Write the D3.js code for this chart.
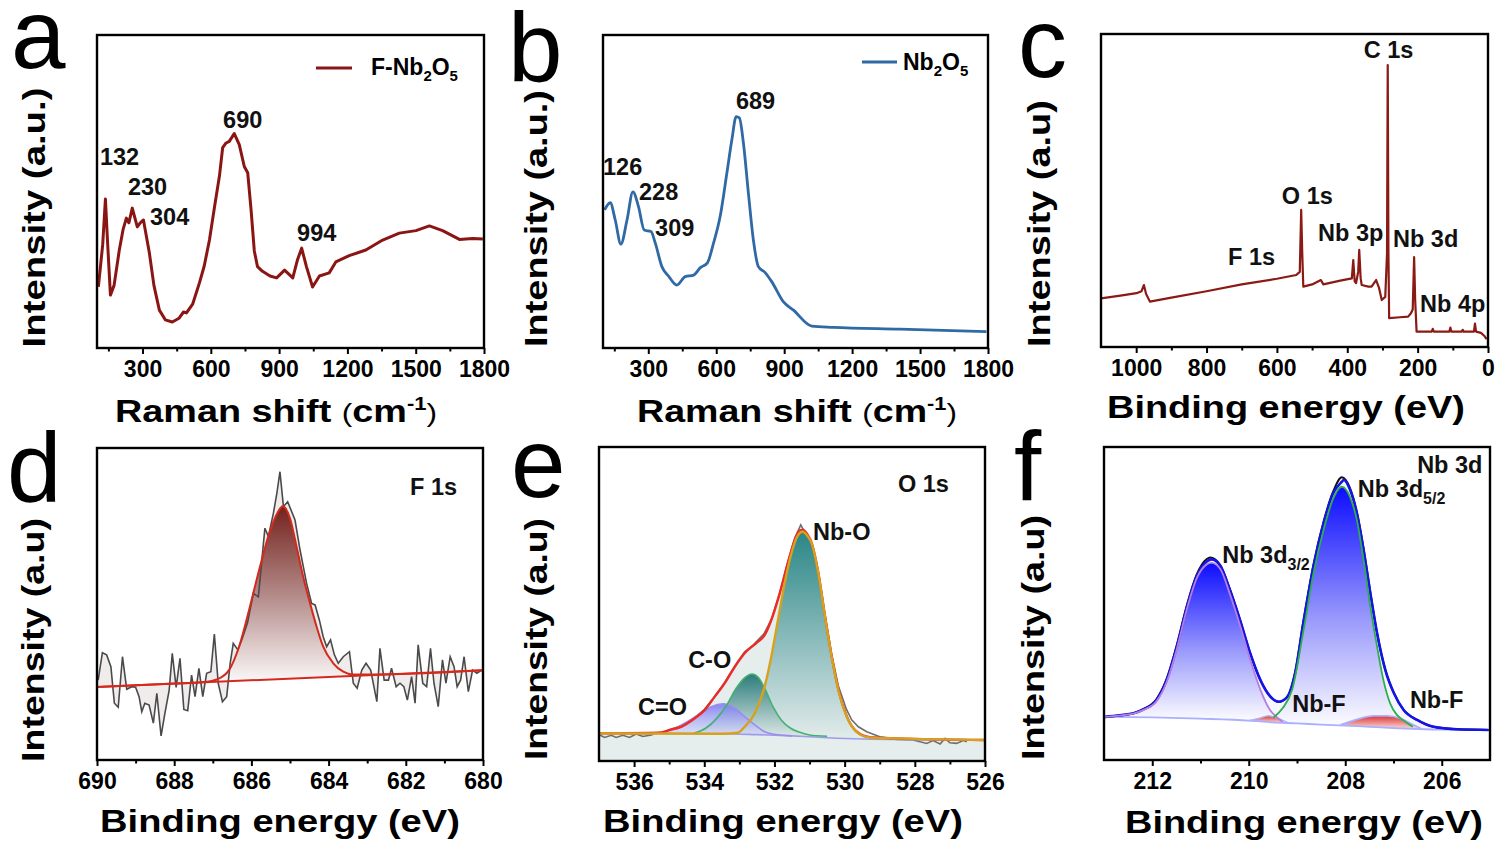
<!DOCTYPE html>
<html>
<head>
<meta charset="utf-8">
<script src="https://cdn.jsdelivr.net/npm/d3@7"></script>
<style>
  body { margin: 0; background: #fff; }
  text { font-family: "Liberation Sans", Arial, Helvetica, sans-serif; }
</style>
</head>
<body>
<svg id="fig" width="1496" height="846"></svg>
<script>
// ---- data: [x, intensity (a.u., 0-100 of the frame)] ----
const ramanFNb2O5 = [[106,19.5],[125,33],[137,47.6],[147,33],[159,16.9],[175,20],[198,31.3],[215,38],[229,41.5],[240,40],[255,44.7],[277,38.7],[290,40],[304,40.9],[330,30.4],[350,20],[374,12.1],[400,9],[431,8.3],[460,9.5],[480,11.5],[493,11.2],[520,14],[550,20.8],[571,26.2],[594,34.5],[616,45],[638,55],[652,64],[667,65.5],[681,66],[703,68.5],[725,65],[747,58],[762,56],[777,44],[791,31],[805,26],[827,24.5],[860,23],[889,22.4],[924,24.9],[960,22.4],[980,28],[999,31.9],[1020,26],[1047,19.5],[1077,23],[1120,24],[1149,27.5],[1208,29.5],[1281,31.3],[1355,34.5],[1428,36.7],[1501,37.5],[1560,39],[1618,37.5],[1692,34.7],[1750,35],[1795,34.8]]
const ramanNb2O5 = [[107,44.1],[132,46.4],[154,40.9],[179,33.2],[206,40.9],[232,49.9],[257,45.1],[282,37.7],[312,37.2],[331,33.5],[360,26.0],[389,23.0],[426,20.1],[463,22.8],[500,23.3],[529,25.6],[561,27.2],[588,33.5],[617,41.9],[647,55.9],[669,66.5],[688,73.9],[702,73.5],[720,65.5],[742,49.5],[764,34.5],[786,26.0],[816,24.1],[845,21.2],[896,14.8],[941,12.1],[1022,7.0],[1117,6.6],[1411,6.0],[1793,5.2]]
const surveyXPS = [[1100,15.5],[1040,16.5],[999,17.2],[985,17.8],[978,19.8],[972,17],[961,14.5],[900,15.8],[800,17.8],[700,20],[600,21.8],[545,23],[535,24],[531,43.8],[528,30],[525,19.3],[500,20],[475,21.4],[468,20],[420,21.2],[387,21.9],[383,27.8],[379,21],[375,20.4],[369,24],[366,31],[362,22],[359,19.8],[340,19.3],[331,19.3],[318,21.4],[310,19],[302,15],[292,16],[287,30],[285,90.1],[283,30],[281,9.2],[250,9.5],[227,9.7],[219,10.8],[214,12],[210,28.7],[207,15],[203,4.9],[160,4.9],[157,5.8],[154,4.9],[110,4.9],[107,6.2],[104,4.9],[75,4.9],[72,5.5],[69,4.9],[40,4.9],[37,7.5],[34,4.9],[20,4.5],[10,3.5],[4,2.5]]

const f1sRaw = [[689.97,25.6],[689.86,34.4],[689.75,33.7],[689.64,29.9],[689.55,18.2],[689.45,16.9],[689.34,33.1],[689.23,22.7],[689.10,23.5],[689.00,23.3],[688.91,20.3],[688.84,15.5],[688.76,18.2],[688.65,17.6],[688.54,11.8],[688.45,21.4],[688.34,7.7],[688.24,15.0],[688.13,22.4],[688.05,34.2],[687.95,23.3],[687.85,32.6],[687.75,16.2],[687.65,15.8],[687.55,27.2],[687.46,20.3],[687.36,29.4],[687.26,20.3],[687.16,27.8],[687.05,28.3],[686.96,40.4],[686.86,24.6],[686.75,18.7],[686.64,20.3],[686.55,31.0],[686.47,37.4],[686.35,35.3],[686.25,38.5],[686.1,44],[685.95,53.4],[685.82,52.3],[685.65,74.3],[685.56,71.6],[685.43,79.1],[685.34,85.5],[685.26,92.4],[685.17,81.2],[685.06,82.8],[684.87,76.9],[684.74,67.3],[684.57,56.6],[684.44,50.2],[684.35,49.7],[684.24,44.9],[684.14,39.5],[684.05,36.3],[683.95,38.5],[683.85,33.7],[683.75,31.0],[683.62,33.1],[683.46,34.7],[683.36,24.6],[683.26,23.0],[683.14,28.8],[683.03,31.0],[682.91,28.8],[682.75,18.7],[682.67,35.8],[682.56,25.6],[682.45,25.6],[682.37,29.4],[682.25,23.5],[682.15,24.6],[682.05,23.5],[681.96,19.2],[681.85,26.7],[681.76,18.2],[681.68,36.9],[681.56,24.6],[681.46,23.5],[681.36,35.8],[681.27,24.6],[681.16,17.1],[681.05,32.1],[680.96,24.6],[680.85,33.1],[680.75,29.9],[680.67,23.5],[680.58,25.6],[680.49,33.1],[680.38,21.9],[680.27,28.8],[680.16,27.8],[680.06,28.6]]
const f1sFit = [[690,23.4],[688,24.5],[687.2,25.0],[686.9,25.8],[686.58,28.8],[686.32,36.3],[686.06,48.1],[685.8,60.9],[685.54,72.6],[685.33,79.1],[685.19,81.3],[685.0,77.5],[684.83,68.4],[684.66,58.8],[684.48,50.2],[684.31,42.7],[684.14,36.3],[683.88,31],[683.62,28.3],[683.36,27.4],[683,27.4],[680,28.8]]
const f1sBase = [[690,23.4],[680,28.8]]

const o1sRaw = [[536.98,8.3],[536.84,7.5],[536.65,8.2],[536.51,7.5],[536.32,8.2],[536.13,7.5],[535.94,8.6],[535.75,7.8],[535.51,8.3],[535.37,9.0],[535.12,9.2],[534.9,10.3],[534.6,11.5],[534.3,13.6],[534,16.4],[533.7,20.6],[533.42,25],[533.13,30.3],[532.85,34.8],[532.6,37],[532.3,40.5],[532.09,45],[531.85,53.5],[531.62,63.5],[531.42,71],[531.25,75.2],[531.1,72],[530.94,69.5],[530.75,60.2],[530.56,46.5],[530.37,34],[530.18,24],[529.95,16.5],[529.8,13.1],[529.61,10.9],[529.37,9.3],[529,7.7],[528.52,6.9],[528.05,6.7],[527.66,5.6],[527.48,6.5],[527.28,5.4],[527.14,7.2],[527,5.8],[526.81,5.6],[526.62,6.5],[526.52,6.1]]
const o1sEnvelope = [[537,8.8],[535.3,9],[534.99,9.9],[534.66,10.9],[534.27,13.6],[533.99,16.2],[533.7,20.5],[533.42,24.7],[533.13,30],[532.85,34.3],[532.47,38],[532.28,40.1],[532.09,44.9],[531.85,53.4],[531.62,63],[531.42,70.5],[531.3,73.2],[531.2,73.7],[531.05,72],[530.94,69.5],[530.75,60],[530.56,46.2],[530.37,33.4],[530.18,22.8],[529.94,14.3],[529.66,9.4],[529.28,7.6],[528.52,7.2],[526,6.7]]
const o1sNbO = [[537,8.8],[533.5,8.7],[533.04,9.0],[532.85,10.9],[532.56,15.2],[532.28,23.7],[532.09,33.2],[531.9,44.9],[531.71,56.6],[531.52,66],[531.35,71.5],[531.2,73],[531.05,71.5],[530.94,69.3],[530.75,59.8],[530.56,46],[530.37,33.2],[530.18,22.6],[529.94,14.1],[529.66,9.3],[529.28,7.5],[528.52,7.2],[526,6.7]]
const o1sCO = [[534.3,8.8],[533.95,10.5],[533.65,13.5],[533.35,18],[533.1,23],[532.85,26.5],[532.64,27.7],[532.45,26.5],[532.25,22.5],[532.05,17.5],[531.8,13],[531.55,10.5],[531.3,9.2],[531,8.3],[530.5,7.9]]
const o1sCdO = [[535.3,8.8],[534.94,9.9],[534.56,12],[534.18,14.6],[533.8,17.3],[533.47,18.2],[533.13,16.8],[532.85,14.1],[532.56,11.5],[532.28,9.3],[532,8.5],[531.5,8.0]]
const o1sBase = [[537,8.8],[533.5,8.7],[532.5,8.4],[531.5,8.0],[530.5,7.4],[529.5,7.0],[528,6.8],[526,6.7]]

const nb3dRaw = [[213.01,13.6],[212.67,14.2],[212.39,14.9],[212.18,16.3],[211.91,19.5],[211.7,26],[211.49,36.8],[211.28,49.6],[211.08,59.2],[210.87,64.2],[210.8,64.7],[210.59,62.3],[210.39,54.5],[210.18,44.7],[209.97,34.1],[209.76,25.6],[209.56,20.4],[209.38,18.6],[209.21,20],[209.04,27.9],[208.87,44],[208.66,62.2],[208.45,76],[208.25,85.8],[208.07,90.3],[207.9,86.8],[207.76,79.3],[207.62,67.5],[207.48,53.5],[207.34,40.5],[207.17,28.8],[206.99,21.3],[206.79,16],[206.51,12.8],[206.17,10.6],[205.68,9.8],[205.03,9.6]]
const nb3dEnvelope = [[213.01,13.8],[212.67,14.3],[212.39,14.9],[212.18,16.2],[211.91,19.2],[211.7,25.6],[211.49,36.2],[211.28,49.0],[211.08,58.6],[210.87,63.4],[210.77,64.1],[210.59,62.0],[210.39,54.3],[210.18,44.7],[209.97,34.1],[209.76,25.6],[209.56,20.4],[209.38,18.6],[209.21,20.0],[209.04,27.7],[208.87,43.7],[208.66,61.8],[208.45,75.6],[208.25,85.2],[208.07,88.9],[208.03,89.5],[207.9,86.3],[207.76,78.8],[207.62,67.1],[207.48,53.3],[207.34,40.5],[207.17,28.8],[206.99,21.3],[206.79,16.0],[206.51,12.8],[206.17,10.6],[205.68,9.8],[205.03,9.6]]
const nb3d32 = [[213,13.8],[212.67,14.2],[212.39,14.8],[212.18,16],[211.91,18.8],[211.7,25],[211.49,35.5],[211.28,48.3],[211.08,58],[210.87,62.5],[210.77,63.0],[210.59,61],[210.39,53],[210.18,43],[209.97,32],[209.76,22.5],[209.56,16.0],[209.45,14.1],[209.3,12.2]]
const nb3d52 = [[209.49,13.5],[209.3,16.5],[209.1,22.5],[208.87,41],[208.66,59.5],[208.45,73.5],[208.25,83.5],[208.07,87.3],[207.9,84],[207.76,76.7],[207.62,63.9],[207.48,49],[207.34,36.2],[207.21,25.6],[207.07,18.1],[206.93,14.4],[206.79,12.6],[206.6,10.6]]
const nbF1 = [[210.0,12.6],[209.8,13.3],[209.59,14.1],[209.4,13.4],[209.2,12.0]]
const nbF2 = [[208.1,11.2],[207.76,13.0],[207.41,14.1],[207.13,14.1],[206.86,13.3],[206.65,11.7],[206.4,9.8]]
const nb3dBase = [[213,13.8],[212,13.6],[211,13.2],[210,12.6],[209.5,12.0],[209,11.7],[208.5,11.3],[208,11.0],[207.5,10.6],[207,10.2],[206.5,9.9],[206,9.7],[205,9.6]]

// ---- ticks ----
const ramanTicks = [300, 600, 900, 1200, 1500, 1800]
const ramanMinor = [150, 450, 750, 1050, 1350, 1650]
const surveyTicks = [1000, 800, 600, 400, 200, 0]
const surveyMinor = [900, 700, 500, 300, 100]
const f1sTicks = [690, 688, 686, 684, 682, 680]
const f1sMinor = [689, 687, 685, 683, 681]
const o1sTicks = [536, 534, 532, 530, 528, 526]
const o1sMinor = [535, 533, 531, 529, 527]
const nb3dTicks = [212, 210, 208, 206]
const nb3dMinor = [211, 209, 207]

// ---- annotations: [text, x, intensity] ----
const ramanFPeaks = [['132', 113, 58.5], ['230', 236, 48.9], ['304', 333, 39.3], ['690', 654, 70.3], ['994', 979, 34.2]]
const ramanPeaks = [['126', 100, 55.3], ['228', 259, 47.3], ['309', 330, 35.8], ['689', 687, 76.4]]
const surveyPeaks = [['C 1s', 353, 92.3], ['O 1s', 586, 45.7], ['Nb 3p', 483, 33.9], ['Nb 3d', 270, 31.9], ['F 1s', 739, 26.2], ['Nb 4p', 193, 11.2]]
const f1sLabels = [['F 1s', 681.89, 84.9]]
const o1sLabels = [['O 1s', 528.48, 85.7], ['Nb-O', 530.90, 70.4], ['C-O', 534.46, 29.6], ['C=O', 535.89, 14.6]]
const nb3dLabels = [['Nb 3d', 206.51, 91.7], [['Nb 3d', '5/2'], 207.74, 84.0], [['Nb 3d', '3/2'], 210.55, 62.9], ['Nb-F', 209.10, 15.3], ['Nb-F', 206.66, 16.6]]

// ---------------------------------------------------------------
const svg = d3.select('#fig')
const defs = svg.append('defs')

function gradient(id, stops) {
    const g = defs.append('linearGradient').attr('id', id)
        .attr('x1', 0).attr('y1', 0).attr('x2', 0).attr('y2', 1)
    stops.forEach(s => g.append('stop').attr('offset', s[0]).attr('stop-color', s[1]).attr('stop-opacity', s[2] == null ? 1 : s[2]))
}
gradient('gF1s', [[0, '#74221d'], [0.5, '#b48c8a'], [1, '#ffffff']])
gradient('gNbO', [[0, '#2a8686'], [1, '#e4ecec']])
gradient('gCO', [[0, '#2b7c7c'], [1, '#dfe9e6']])
gradient('gCdO', [[0, '#7c7cf2', 0.9], [1, '#d8d8fa', 0.6]])
gradient('gNb', [[0, '#0c0cff'], [0.55, '#9a9afc'], [1, '#ffffff']])
gradient('gNbF', [[0, '#dd3434'], [1, '#fbe3e3']])

// baseline value at x (linear between read points), used for the bottom of filled components
function interp(arr, xv) {
    const s = arr.slice().sort((a, b) => a[0] - b[0])
    if (xv <= s[0][0]) return s[0][1]
    for (let i = 1; i < s.length; i++) {
        if (xv <= s[i][0]) {
            const t = (xv - s[i-1][0]) / (s[i][0] - s[i-1][0])
            return s[i-1][1] + t * (s[i][1] - s[i-1][1])
        }
    }
    return s[s.length - 1][1]
}

function panel(cfg) {
    const [x0, x1, y0, y1] = cfg.box
    const p = {cfg}
    p.x = d3.scaleLinear().domain(cfg.xDomain).range([x0, x1])
    p.y = d3.scaleLinear().domain([0, 100]).range([y1, y0])
    p.g = svg.append('g')
    defs.append('clipPath').attr('id', 'clip-' + cfg.id)
        .append('rect').attr('x', x0).attr('y', y0).attr('width', x1 - x0).attr('height', y1 - y0)
    p.plot = p.g.append('g').attr('clip-path', `url(#clip-${cfg.id})`)
    p.line = (curve) => d3.line().x(d => p.x(d[0])).y(d => p.y(d[1])).curve(curve || d3.curveLinear)
    return p
}

function finish(p) {
    const cfg = p.cfg
    const [x0, x1, y0, y1] = cfg.box
    const axis = p.g.append('g').attr('transform', `translate(0,${y1})`)
        .call(d3.axisBottom(p.x).tickValues(cfg.ticks).tickSize(6).tickPadding(7).tickFormat(d3.format('d')))
    axis.select('.domain').remove()
    axis.selectAll('line').attr('stroke', '#000').attr('stroke-width', 2)
    axis.selectAll('text').attr('font-size', 23).attr('font-weight', 'bold').attr('fill', '#000')
        .attr('font-family', '"Liberation Sans", Arial, sans-serif')
    const minor = p.g.append('g').attr('transform', `translate(0,${y1})`)
        .call(d3.axisBottom(p.x).tickValues(cfg.minor).tickSize(3.5).tickFormat(''))
    minor.select('.domain').remove()
    minor.selectAll('line').attr('stroke', '#000').attr('stroke-width', 2)

    p.g.append('rect').attr('x', x0).attr('y', y0).attr('width', x1 - x0).attr('height', y1 - y0)
        .attr('fill', 'none').attr('stroke', '#000').attr('stroke-width', 2.4)

    // y title
    const yt = p.g.append('text').attr('text-anchor', 'middle').attr('font-size', 31)
        .attr('font-weight', 'bold').text(cfg.yTitle)
    const yw = yt.node().getComputedTextLength()
    yt.attr('transform', `translate(${cfg.yTitlePos[0]},${cfg.yTitlePos[1]}) rotate(-90) scale(${cfg.yTitlePos[2] / yw},1)`)

    // x title
    const xt = p.g.append('text').attr('text-anchor', 'middle').attr('font-size', 31).attr('font-weight', 'bold')
    cfg.xTitle.forEach(part => {
        const ts = xt.append('tspan').text(part.t)
        if (part.light) ts.attr('font-weight', 'normal').attr('font-size', 26)
        if (part.sup) ts.attr('font-size', 18).attr('dy', -12)
        if (part.down) ts.attr('dy', 12)
    })
    const xw = xt.node().getComputedTextLength()
    xt.attr('transform', `translate(${cfg.xTitlePos[0]},${cfg.xTitlePos[1]}) scale(${cfg.xTitlePos[2] / xw},1)`)

    // panel letter
    p.g.append('text').attr('x', cfg.letter[1]).attr('y', cfg.letter[2])
        .attr('font-size', 98).attr('fill', '#000').text(cfg.letter[0])

    // annotations
    cfg.labels.forEach(l => {
        const t = p.g.append('text').attr('x', p.x(l[1])).attr('y', p.y(l[2]))
            .attr('font-size', 23.5).attr('font-weight', 'bold').attr('fill', '#111')
        if (Array.isArray(l[0])) {
            t.append('tspan').text(l[0][0])
            t.append('tspan').attr('dy', 7).attr('font-size', 16).text(l[0][1])
        } else t.text(l[0])
    })
}

function legend(p, label, color, lx, ly, tx, ty) {
    p.g.append('line').attr('x1', lx[0]).attr('x2', lx[1]).attr('y1', ly).attr('y2', ly)
        .attr('stroke', color).attr('stroke-width', 3)
    const t = p.g.append('text').attr('x', tx).attr('y', ty).attr('font-size', 23).attr('font-weight', 'bold')
    label.forEach(part => {
        const ts = t.append('tspan').text(part[0])
        if (part[1] === 'sub') ts.attr('font-size', 15).attr('dy', 6)
        if (part[1] === 'up') ts.attr('dy', -6)
    })
}

const ramanTitle = [{t: 'Raman shift '}, {t: '(', light: true}, {t: 'cm'}, {t: '-1', sup: true}, {t: ')', light: true, down: true}]
const beTitle = [{t: 'Binding energy (eV)'}]

// ---- (a) Raman F-Nb2O5 ----
const pa = panel({id: 'a', box: [97, 484, 35, 348], xDomain: [100, 1800], ticks: ramanTicks, minor: ramanMinor,
    yTitle: 'Intensity (a.u.)', yTitlePos: [45, 217.5, 260], xTitle: ramanTitle, xTitlePos: [276, 422, 322],
    letter: ['a', 11, 68], labels: ramanFPeaks})
pa.plot.append('path').datum(ramanFNb2O5).attr('d', pa.line()).attr('fill', 'none')
    .attr('stroke', '#8a1614').attr('stroke-width', 3).attr('stroke-linejoin', 'round')
finish(pa)
legend(pa, [['F-Nb'], ['2', 'sub'], ['O', 'up'], ['5', 'sub']], '#8a1614', [316, 352], 68, 371, 75)

// ---- (b) Raman Nb2O5 ----
const pb = panel({id: 'b', box: [603, 988, 35, 348], xDomain: [100, 1800], ticks: ramanTicks, minor: ramanMinor,
    yTitle: 'Intensity (a.u.)', yTitlePos: [547, 218.5, 257], xTitle: ramanTitle, xTitlePos: [797, 422, 320],
    letter: ['b', 508, 81], labels: ramanPeaks})
pb.plot.append('path').datum(ramanNb2O5).attr('d', pb.line(d3.curveMonotoneX)).attr('fill', 'none')
    .attr('stroke', '#2f69a6').attr('stroke-width', 2.8).attr('stroke-linejoin', 'round')
finish(pb)
legend(pb, [['Nb'], ['2', 'sub'], ['O', 'up'], ['5', 'sub']], '#2f69a6', [862, 897], 62, 903, 70)

// ---- (c) XPS survey ----
const pc = panel({id: 'c', box: [1101, 1488, 34, 347], xDomain: [1100, 0], ticks: surveyTicks, minor: surveyMinor,
    yTitle: 'Intensity (a.u)', yTitlePos: [1050, 223.5, 247], xTitle: beTitle, xTitlePos: [1286, 418, 358],
    letter: ['c', 1018, 77], labels: surveyPeaks})
pc.plot.append('path').datum(surveyXPS).attr('d', pc.line()).attr('fill', 'none')
    .attr('stroke', '#8a1a14').attr('stroke-width', 2.2).attr('stroke-linejoin', 'round')
finish(pc)

// ---- (d) F 1s ----
const pd = panel({id: 'd', box: [97, 483, 448, 760], xDomain: [690, 680], ticks: f1sTicks, minor: f1sMinor,
    yTitle: 'Intensity (a.u)', yTitlePos: [44, 640, 244], xTitle: beTitle, xTitlePos: [280, 832, 360],
    letter: ['d', 7, 501], labels: f1sLabels})
pd.plot.append('path').datum(f1sRaw)
    .attr('d', d3.area().x(d => pd.x(d[0])).y0(d => pd.y(interp(f1sBase, d[0]))).y1(d => pd.y(d[1])))
    .attr('fill', '#f1ecec')
pd.plot.append('path').datum(f1sFit)
    .attr('d', d3.area().x(d => pd.x(d[0])).y0(d => pd.y(interp(f1sBase, d[0]))).y1(d => pd.y(d[1])).curve(d3.curveMonotoneX))
    .attr('fill', 'url(#gF1s)')
pd.plot.append('path').datum(f1sRaw).attr('d', pd.line()).attr('fill', 'none')
    .attr('stroke', '#4a4a4a').attr('stroke-width', 1.6)
pd.plot.append('path').datum(f1sBase).attr('d', pd.line()).attr('fill', 'none')
    .attr('stroke', '#d42a1e').attr('stroke-width', 2)
pd.plot.append('path').datum(f1sFit).attr('d', pd.line(d3.curveMonotoneX)).attr('fill', 'none')
    .attr('stroke', '#d42a1e').attr('stroke-width', 2)
finish(pd)

// ---- (e) O 1s ----
const pe = panel({id: 'e', box: [599, 985, 447, 761], xDomain: [537, 526], ticks: o1sTicks, minor: o1sMinor,
    yTitle: 'Intensity (a.u)', yTitlePos: [547, 639, 242], xTitle: beTitle, xTitlePos: [783, 832, 360],
    letter: ['e', 511, 497], labels: o1sLabels})
pe.plot.append('path').datum(o1sEnvelope)
    .attr('d', d3.area().x(d => pe.x(d[0])).y0(pe.y(0) + 2).y1(d => pe.y(d[1])).curve(d3.curveMonotoneX))
    .attr('fill', '#e6eded')
const comp = (data, fill) => pe.plot.append('path').datum(data)
    .attr('d', d3.area().x(d => pe.x(d[0])).y0(d => pe.y(interp(o1sBase, d[0]))).y1(d => pe.y(d[1])).curve(d3.curveMonotoneX))
    .attr('fill', fill)
comp(o1sNbO, 'url(#gNbO)')
comp(o1sCO, 'url(#gCO)')
comp(o1sCdO, 'url(#gCdO)')
pe.plot.append('path').datum(o1sRaw).attr('d', pe.line()).attr('fill', 'none')
    .attr('stroke', '#6e6e6e').attr('stroke-width', 1.6)
const eLine = (data, color, w) => pe.plot.append('path').datum(data).attr('d', pe.line(d3.curveMonotoneX))
    .attr('fill', 'none').attr('stroke', color).attr('stroke-width', w)
eLine(o1sBase, '#9d9de8', 1.6)
eLine(o1sCdO, '#9a8cf0', 1.6)
eLine(o1sCO, '#45b070', 1.6)
eLine(o1sEnvelope, '#ee2a24', 2.4)
eLine(o1sNbO, '#d6a21e', 2.4)
finish(pe)

// ---- (f) Nb 3d ----
const pf = panel({id: 'f', box: [1104, 1490, 447, 760], xDomain: [213, 205], ticks: nb3dTicks, minor: nb3dMinor,
    yTitle: 'Intensity (a.u)', yTitlePos: [1044, 637.5, 245], xTitle: beTitle, xTitlePos: [1304, 833, 358],
    letter: ['f', 1014, 500], labels: nb3dLabels})
const fComp = (data, fill) => pf.plot.append('path').datum(data)
    .attr('d', d3.area().x(d => pf.x(d[0])).y0(d => pf.y(interp(nb3dBase, d[0]))).y1(d => pf.y(d[1])).curve(d3.curveMonotoneX))
    .attr('fill', fill)
fComp(nb3dEnvelope, '#f6f6ff')
fComp(nb3d32, 'url(#gNb)')
fComp(nb3d52, 'url(#gNb)')
fComp(nbF1, 'url(#gNbF)')
fComp(nbF2, 'url(#gNbF)')
const fLine = (data, color, w) => pf.plot.append('path').datum(data).attr('d', pf.line(d3.curveMonotoneX))
    .attr('fill', 'none').attr('stroke', color).attr('stroke-width', w)
fLine(nb3dBase, '#aab0ff', 1.8)
fLine(nbF1, '#b0b4ff', 1.4)
fLine(nbF2, '#aab0ff', 1.8)
fLine(nb3dRaw, '#111', 2)
fLine(nb3dEnvelope, '#1414e6', 2.6)
fLine(nb3d32, '#b77ee0', 1.8)
fLine(nb3d52, '#2fae4a', 1.8)
finish(pf)
</script>
</body>
</html>
